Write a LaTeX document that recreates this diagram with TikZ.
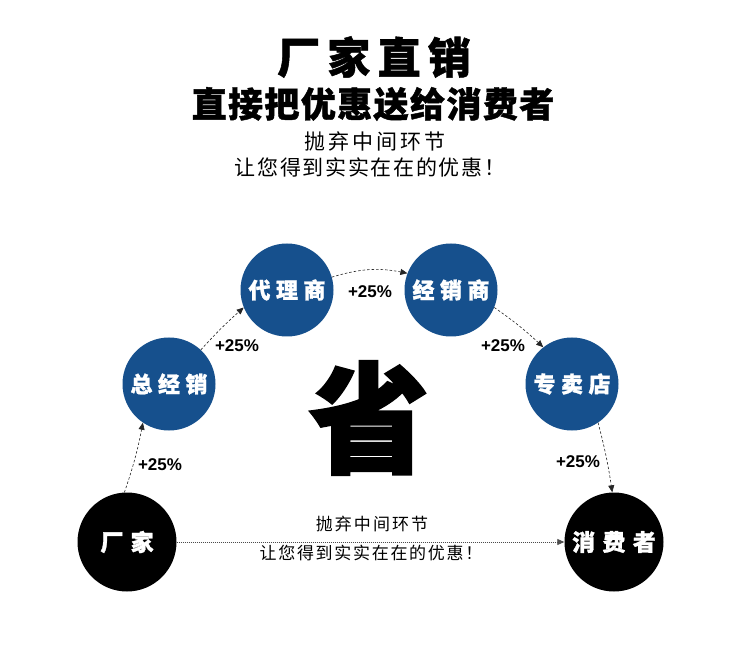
\documentclass[tikz,border=0pt]{standalone}
\usepackage{fontspec}
\usetikzlibrary{arrows.meta}
\newfontfamily\cjk{Noto Sans CJK SC}
\newfontfamily\cjkbold[FakeBold=1.2]{Noto Sans CJK SC}
\newfontfamily\cjkheavy[FakeBold=2]{Noto Sans CJK SC}
\setmainfont{Liberation Sans}
\definecolor{nodeblue}{RGB}{22,80,141}
\tikzset{
  blue circ/.style={circle, fill=nodeblue, minimum size=93pt, inner sep=0pt, text=white, font=\cjkbold\bfseries\fontsize{22}{22}\selectfont\addfontfeature{LetterSpace=25}},
  black circ/.style={circle, fill=black, minimum size=99pt, inner sep=0pt, text=white, font=\cjkbold\bfseries\fontsize{23}{23}\selectfont\addfontfeature{LetterSpace=32}},
  flow/.style={draw=black!85, line width=0.6pt, dash pattern=on 2.5pt off 2pt, -{Triangle[length=7pt,width=6pt]}},
  direct/.style={draw=black!70, line width=0.8pt, dash pattern=on 1pt off 1pt, -{Triangle[length=7pt,width=6pt]}},
  pct/.style={font=\bfseries\fontsize{17}{17}\selectfont, inner sep=0pt},
}
\begin{document}
\begin{tikzpicture}[x=1pt,y=-1pt]
\useasboundingbox[fill=white] (0,0) rectangle (750,660);
% titles
\node[font=\cjkbold\bfseries\fontsize{43}{43}\selectfont\addfontfeature{LetterSpace=17}] (t1) at (374,57) {厂家直销};
\node[font=\cjkbold\bfseries\fontsize{35}{35}\selectfont\addfontfeature{LetterSpace=4}] (t2) at (373,104) {直接把优惠送给消费者};
\node[font=\cjk\fontsize{21}{21}\selectfont\addfontfeature{LetterSpace=14}] (t3) at (375,141) {抛弃中间环节};
\node[font=\cjk\fontsize{21}{21}\selectfont\addfontfeature{LetterSpace=8}] (t4) at (370,167) {让您得到实实在在的优惠！};
% nodes
\node[black circ] (f) at (127,542) {厂家};
\node[blue circ] (z) at (169,384) {总经销};
\node[blue circ] (d) at (287,290) {代理商};
\node[blue circ] (j) at (451,290) {经销商};
\node[blue circ] (s) at (572,384) {专卖店};
\node[black circ] (c) at (614,542) {消费者};
% big character
\node[font=\cjkheavy\bfseries\fontsize{120}{120}\selectfont, inner sep=0pt] (sheng) at (369,418) {省};
% connectors
\draw[flow] (f.93) to[bend right=4] (z.236);
\draw[flow] (z.47) to[bend left=3] (d.202);
\draw[flow] (d.16) to[bend left=14] (j.159);
\draw[flow] (j.338) to[bend left=4] (s.128);
\draw[flow] (s.304) to[bend left=3] (c.92);
\draw[direct] (f.east) -- (c.west);
% labels
\node[pct] (p1) at (160,465) {+25\%};
\node[pct] (p2) at (237,346) {+25\%};
\node[pct] (p3) at (370,292) {+25\%};
\node[pct] (p4) at (503,346) {+25\%};
\node[pct] (p5) at (578,462) {+25\%};
\node[font=\cjk\fontsize{17}{17}\selectfont\addfontfeature{LetterSpace=12}] (b1) at (372,524) {抛弃中间环节};
\node[font=\cjk\fontsize{17}{17}\selectfont\addfontfeature{LetterSpace=10}] (b2) at (371,553) {让您得到实实在在的优惠！};
\end{tikzpicture}
\end{document}
